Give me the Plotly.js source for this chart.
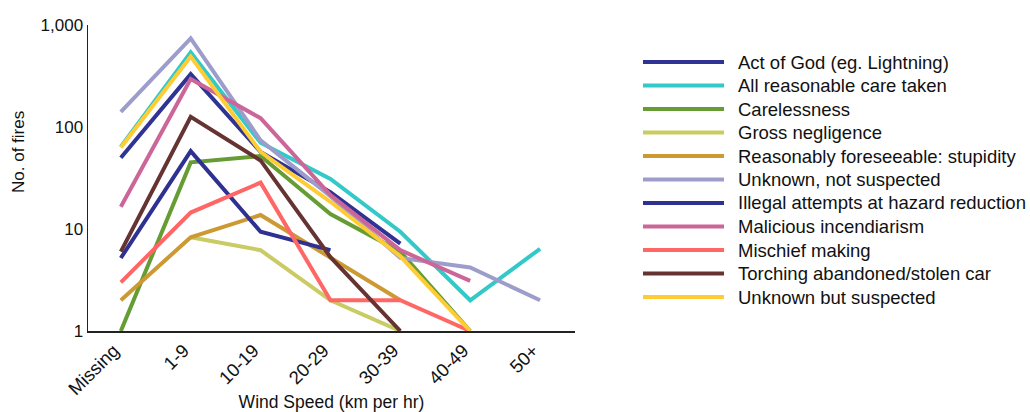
<!DOCTYPE html>
<html>
<head>
<meta charset="utf-8">
<script src="https://cdn.plot.ly/plotly-3.0.1.min.js"></script>
<style>html,body{margin:0;padding:0;background:#fff;}#chart{width:1030px;height:412px;}</style>
</head>
<body>
<div id="chart"></div>
<script>
const categories = ["Missing", "1-9", "10-19", "20-29", "30-39", "40-49", "50+"];

const actOfGod       = [50, 330, 57, 23, 7.2, null, null];
const allCare        = [64, 540, 70, 31, 9.4, 2, 6.4];
const carelessness   = [1, 45, 52, 14, 6, 1, null];
const grossNeg       = [null, 8.3, 6.2, 2, 1, null, null];
const foreseeable    = [2, 8.3, 13.7, 5.3, 2, null, null];
const unknownNotSusp = [141, 740, 74, 21, 5.2, 4.2, 2];
const illegalHazard  = [5.2, 58, 9.4, 6.2, null, null, null];
const malicious      = [16.5, 295, 122, 21.5, 6.2, 3.1, null];
const mischief       = [3, 14.5, 28.5, 2, 2, 1, null];
const torching       = [6, 126, 47, 5.3, 1, null, null];
const unknownSusp    = [63, 490, 57, 18.5, 5.4, 1, null];

const seriesNames = [
  "Act of God (eg. Lightning)", "All reasonable care taken", "Carelessness",
  "Gross negligence", "Reasonably foreseeable: stupidity", "Unknown, not suspected",
  "Illegal attempts at hazard reduction", "Malicious incendiarism", "Mischief making",
  "Torching abandoned/stolen car", "Unknown but suspected"
];
const seriesValues = [actOfGod, allCare, carelessness, grossNeg, foreseeable, unknownNotSusp,
  illegalHazard, malicious, mischief, torching, unknownSusp];
const seriesColors = ["#2f3494", "#33c9c9", "#659c33", "#c9cb63", "#cc9933", "#9d9dcc",
  "#2e3192", "#cc6699", "#ff6666", "#663333", "#ffcc33"];

const yTickVals = [1, 10, 100, 1000];
const yTickText = ["1", "10", "100", "1,000"];

const FONT = "Liberation Sans, Arial, Helvetica, sans-serif";

// plot-area geometry in pixels (used only to place the hand-drawn legend)
const W = 1030, H = 412, L = 88, R = 455, T = 25, B = 81;
const pw = W - L - R, ph = H - T - B;
const px2x = p => (p - L) / pw;
const py2y = p => (H - B - p) / ph;

const traces = seriesNames.map((n, i) => ({
  type: "scatter", mode: "lines", name: n,
  x: categories, y: seriesValues[i],
  line: {color: seriesColors[i], width: 4},
  connectgaps: false, showlegend: false
}));

const shapes = [];
const annotations = [];
seriesNames.forEach((n, i) => {
  const yy = py2y(62 + 23.5 * i);
  shapes.push({
    type: "line", xref: "paper", yref: "paper",
    x0: px2x(643), x1: px2x(724), y0: yy, y1: yy,
    line: {color: seriesColors[i], width: 4}
  });
  annotations.push({
    text: n, xref: "paper", yref: "paper", x: px2x(736), y: yy,
    xanchor: "left", yanchor: "middle", showarrow: false,
    font: {family: FONT, size: 18.5, color: "#111"}
  });
});
annotations.push({
  text: "No. of fires", textangle: -90,
  xref: "paper", yref: "paper", x: px2x(18), y: py2y(152),
  xanchor: "center", yanchor: "middle",
  showarrow: false, font: {family: FONT, size: 17, color: "#111"}
});

const layout = {
  width: W, height: H,
  margin: {l: L, r: R, t: T, b: B},
  paper_bgcolor: "#fff", plot_bgcolor: "#fff",
  font: {family: FONT, color: "#111", size: 17},
  showlegend: false,
  xaxis: {
    type: "category", categoryorder: "array", categoryarray: categories,
    range: [-0.47, 6.5],
    showline: true, linecolor: "#222", linewidth: 1.5,
    showgrid: false, zeroline: false, ticks: "",
    tickangle: -45, tickfont: {family: FONT, size: 18.5},
    ticklabelshift: -7,
    title: {text: "Wind Speed (km per hr)", font: {family: FONT, size: 17.5}, standoff: 10}
  },
  yaxis: {
    type: "log", range: [0, 3],
    tickvals: yTickVals, ticktext: yTickText,
    showline: true, linecolor: "#222", linewidth: 1.5,
    showgrid: false, zeroline: false, ticks: "",
    tickfont: {family: FONT, size: 17}
  },
  shapes: shapes,
  annotations: annotations
};

Plotly.newPlot("chart", traces, layout, {displayModeBar: false, staticPlot: true});
</script>
</body>
</html>
